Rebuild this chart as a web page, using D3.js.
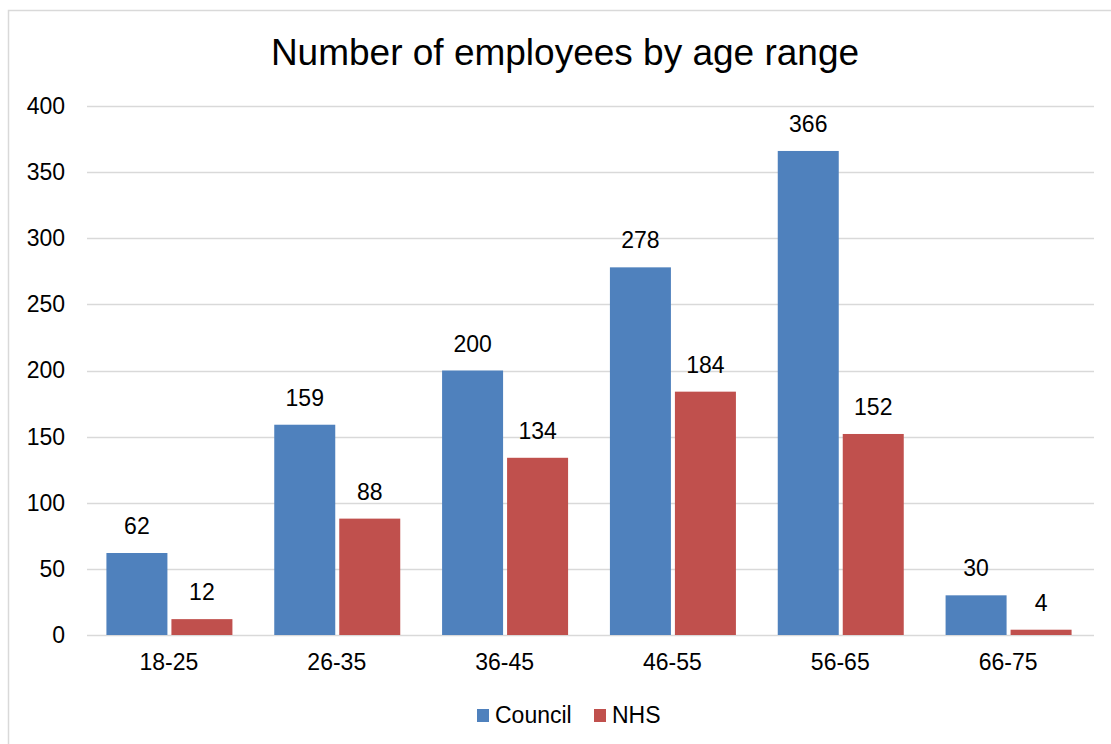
<!DOCTYPE html>
<html>
<head>
<meta charset="utf-8">
<script src="https://cdn.jsdelivr.net/npm/d3@7"></script>
<style>
  html, body { margin: 0; padding: 0; background: #fff; }
  svg { display: block; }
  text { font-family: "Liberation Sans", Arial, sans-serif; fill: #000; }
</style>
</head>
<body>
<svg id="chart" width="1111" height="744"></svg>
<script>
// Headcount per age band
const categories = ["18-25", "26-35", "36-45", "46-55", "56-65", "66-75"];
const councilValues = [62, 159, 200, 278, 366, 30];
const nhsValues = [12, 88, 134, 184, 152, 4];
const seriesNames = ["Council", "NHS"];
const seriesColors = ["#4F81BD", "#C0504D"];
const yTicks = [0, 50, 100, 150, 200, 250, 300, 350, 400];

const svg = d3.select("#chart");
const W = 1111, H = 744;
const FONT = '"Liberation Sans", Arial, sans-serif';

// chart frame
svg.append("rect")
  .attr("x", 8.5).attr("y", 10.5)
  .attr("width", W + 10).attr("height", H + 10)
  .attr("fill", "#fff").attr("stroke", "#d9d9d9").attr("stroke-width", 1.5);

const plot = { left: 87, right: 1094, top: 106, bottom: 635 };

const x = d3.scaleBand().domain(categories).range([plot.left, plot.right]).padding(0);
const y = d3.scaleLinear().domain([0, 400]).range([plot.bottom, plot.top]);

// title
svg.append("text")
  .attr("x", 565).attr("y", 65)
  .attr("text-anchor", "middle")
  .attr("font-size", 37)
  .text("Number of employees by age range");

// gridlines
svg.append("g").selectAll("line").data(yTicks).join("line")
  .attr("x1", plot.left).attr("x2", plot.right)
  .attr("y1", d => Math.round(y(d)) + 0.5).attr("y2", d => Math.round(y(d)) + 0.5)
  .attr("stroke", "#d9d9d9").attr("stroke-width", 1.5);

// y axis labels
const yAxis = d3.axisLeft(y).tickValues(yTicks).tickSize(0).tickPadding(0);
const yg = svg.append("g").attr("transform", `translate(${plot.left - 22},0)`).call(yAxis);
yg.select(".domain").remove();
yg.selectAll("text").attr("font-size", 23).attr("fill", "#000").attr("font-family", FONT);

// x axis labels
const xAxis = d3.axisBottom(x).tickSize(0).tickPadding(0);
const xg = svg.append("g").attr("transform", `translate(-2,${plot.bottom + 19})`).call(xAxis);
xg.select(".domain").remove();
xg.selectAll("text").attr("font-size", 23).attr("fill", "#000").attr("font-family", FONT);

// bars
const barW = 61, barGap = 4;
const series = [councilValues, nhsValues];
const barX = (cat, s) => x(cat) + x.bandwidth() / 2 - 1.5 - (barW + barGap / 2) + s * (barW + barGap);

series.forEach((vals, s) => {
  const g = svg.append("g");
  const data = categories.map((c, i) => ({ c, v: vals[i] }));
  g.selectAll("rect").data(data).join("rect")
    .attr("x", d => barX(d.c, s))
    .attr("y", d => y(d.v))
    .attr("width", barW)
    .attr("height", d => y(0) - y(d.v))
    .attr("fill", seriesColors[s]);
  g.selectAll("text").data(data).join("text")
    .attr("x", d => barX(d.c, s) + barW / 2)
    .attr("y", d => y(d.v) - 19)
    .attr("text-anchor", "middle")
    .attr("font-size", 23)
    .text(d => d.v);
});

// legend
const legend = svg.append("g");
const legendItems = [{ name: seriesNames[0], x: 477 }, { name: seriesNames[1], x: 594 }];
legendItems.forEach((it, i) => {
  legend.append("rect").attr("x", it.x).attr("y", 709).attr("width", 12).attr("height", 13)
    .attr("fill", seriesColors[i]);
  legend.append("text").attr("x", it.x + 18).attr("y", 723).attr("font-size", 23).text(it.name);
});
</script>
</body>
</html>
